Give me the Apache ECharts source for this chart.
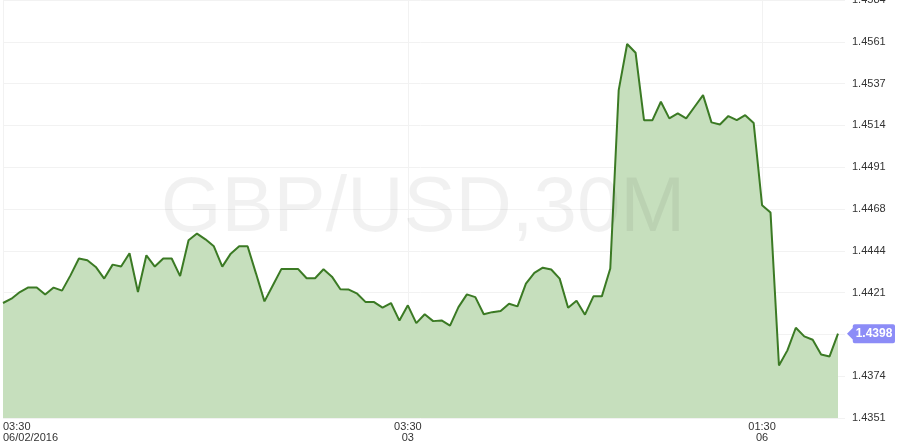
<!DOCTYPE html>
<html>
<head>
<meta charset="utf-8">
<script src="https://cdn.jsdelivr.net/npm/echarts@6/dist/echarts.min.js"></script>
<style>
html,body{margin:0;padding:0;background:#fff;}
#chart{width:900px;height:448px;}
</style>
</head>
<body>
<div id="chart"></div>
<script>
// GBP/USD 30-minute closes (index = bar number, 100 bars)
var prices = [
  1.44151, 1.44175, 1.44212, 1.44238, 1.44238, 1.44198, 1.44237, 1.44220, 1.44305, 1.44399,
  1.44389, 1.44352, 1.44287, 1.44365, 1.44354, 1.44428, 1.44212, 1.44417, 1.44354, 1.44399,
  1.44399, 1.44301, 1.44501, 1.44538, 1.44506, 1.44467, 1.44354, 1.44426, 1.44467, 1.44467,
  1.44315, 1.44160, 1.44250, 1.44340, 1.44340, 1.44340, 1.44289, 1.44289, 1.44339, 1.44298,
  1.44228, 1.44226, 1.44203, 1.44156, 1.44156, 1.44125, 1.44151, 1.44053, 1.44138, 1.44039,
  1.44088, 1.44050, 1.44054, 1.44025, 1.44128, 1.44199, 1.44184, 1.44088, 1.44100, 1.44106,
  1.44147, 1.44132, 1.44259, 1.44319, 1.44348, 1.44338, 1.44287, 1.44125, 1.44164, 1.44086,
  1.44188, 1.44188, 1.44343, 1.45338, 1.45595, 1.45546, 1.45170, 1.45170, 1.45273, 1.45180,
  1.45208, 1.45180, 1.45245, 1.45310, 1.45158, 1.45146, 1.45193, 1.45170, 1.45198, 1.45155,
  1.44696, 1.44655, 1.43803, 1.43887, 1.44013, 1.43965, 1.43946, 1.43864, 1.43853, 1.43980
];
var categories = prices.map(function (_, i) { return String(i); });

// x tick labels (bar index -> label)
var xTickIndex = [0, 48, 90];
var xTickLabels = ['03:30\n06/02/2016', '03:30\n03', '01:30\n06'];

// y tick values and labels
var yMin = 1.4351, yMax = 1.4584;
var yTickValues = [1.4351, 1.43743, 1.43976, 1.44209, 1.44442, 1.44675, 1.44908, 1.45141, 1.45374, 1.45607, 1.4584];
var yTickLabels = ['1.4351', '1.4374', '1.4398', '1.4421', '1.4444', '1.4468', '1.4491', '1.4514', '1.4537', '1.4561', '1.4584'];

var lastValueLabel = '1.4398';
var watermark = 'GBP/USD,30M';

var chart = echarts.init(document.getElementById('chart'), null, {renderer: 'canvas'});
var gridColor = '#f2f2f2';
var option = {
  animation: false,
  backgroundColor: '#ffffff',
  grid: {left: 3, right: 62, top: 0, bottom: 30, containLabel: false, outerBoundsMode: 'none'},
  graphic: [{
    type: 'text',
    silent: true,
    z: 100,
    x: 423,
    y: 209,
    style: {
      text: watermark,
      font: '78px "Liberation Sans", Arial, sans-serif',
      fill: 'rgba(0,0,0,0.055)',
      align: 'center',
      verticalAlign: 'middle'
    }
  }],
  xAxis: {
    type: 'category',
    data: categories,
    boundaryGap: false,
    axisLine: {show: false},
    axisTick: {show: false},
    axisLabel: {
      interval: function (i) { return xTickIndex.indexOf(i) >= 0; },
      formatter: function (v, i) {
        var k = xTickIndex.indexOf(i);
        return k >= 0 ? xTickLabels[k] : '';
      },
      color: '#333',
      fontSize: 11,
      lineHeight: 11,
      margin: 3,
      fontFamily: '"Liberation Sans", Arial, sans-serif',
      alignMinLabel: 'left'
    },
    splitLine: {
      show: true,
      interval: function (i) { return xTickIndex.indexOf(i) >= 0; },
      lineStyle: {color: gridColor, width: 1}
    }
  },
  yAxis: {
    type: 'value',
    position: 'right',
    min: yMin,
    max: yMax,
    scale: true,
    axisLine: {show: false},
    axisTick: {show: true, length: 7, customValues: yTickValues, lineStyle: {color: gridColor}},
    axisLabel: {
      customValues: yTickValues,
      formatter: function (v) {
        var best = 0, d = Infinity;
        for (var i = 0; i < yTickValues.length; i++) {
          var dd = Math.abs(yTickValues[i] - v);
          if (dd < d) { d = dd; best = i; }
        }
        return yTickLabels[best];
      },
      color: '#333',
      fontSize: 11,
      margin: 14,
      fontFamily: '"Liberation Sans", Arial, sans-serif'
    },
    splitLine: {show: true, lineStyle: {color: gridColor, width: 1}}
  },
  series: [{
    type: 'line',
    data: prices,
    symbol: 'none',
    smooth: false,
    lineStyle: {color: '#3b7a24', width: 2},
    areaStyle: {color: '#c6dfbd', opacity: 1},
    z: 3,
    markPoint: {
      silent: true,
      symbol: 'path://M0,10 L6,4 L6,2 Q6,0 8,0 L48,0 Q50,0 50,2 L50,18 Q50,20 48,20 L8,20 Q6,20 6,18 L6,16 Z',
      symbolSize: [48, 19],
      symbolKeepAspect: false,
      symbolOffset: [33, 0],
      itemStyle: {color: '#8c8cf7'},
      label: {
        show: true,
        formatter: lastValueLabel,
        color: '#ffffff',
        fontWeight: 'bold',
        fontSize: 12,
        offset: [3, 0],
        fontFamily: '"Liberation Sans", Arial, sans-serif'
      },
      data: [{coord: [String(prices.length - 1), prices[prices.length - 1]]}]
    }
  }]
};
chart.setOption(option);
</script>
</body>
</html>
